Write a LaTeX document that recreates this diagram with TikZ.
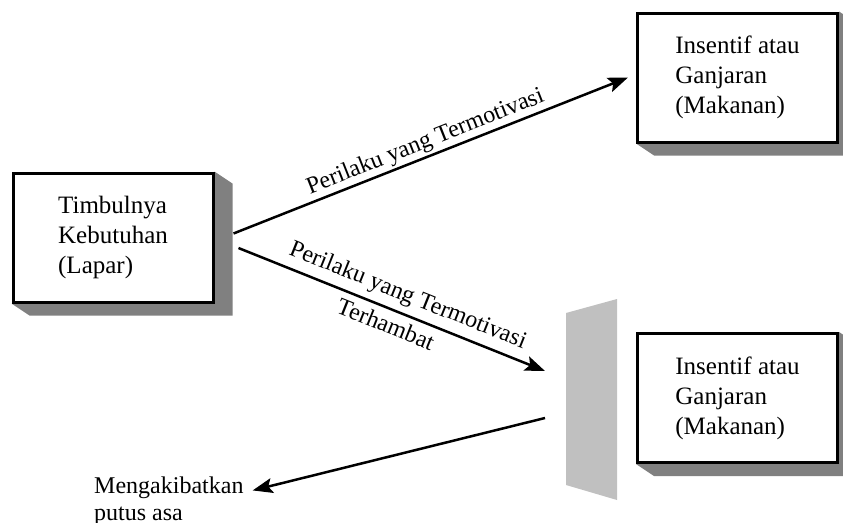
\documentclass[tikz,border=0pt]{standalone}
\usepackage{fontspec}
\setmainfont{Liberation Serif}
\usetikzlibrary{arrows.meta,calc,backgrounds}
\definecolor{shadowgray}{HTML}{808080}
\definecolor{wallgray}{HTML}{C0C0C0}
\begin{document}
\begin{tikzpicture}[x=1pt,y=-1pt,
  box/.style={draw, line width=3pt, fill=white, align=left,
    font=\fontsize{25}{30}\selectfont, minimum width=200pt,
    minimum height=129pt, inner sep=0pt},
  conn/.style={line width=2.5pt, -{Stealth[length=20pt,width=15pt,inset=4pt]}},
  lbl/.style={font=\fontsize{24}{29}\selectfont, sloped, inner sep=2pt},
  plain/.style={font=\fontsize{24}{27}\selectfont, align=left, inner sep=0pt}]
\useasboundingbox (0,0) rectangle (843,522);

% boxes
\node[box] (need) at (113,237.5) {Timbulnya\\Kebutuhan\\(Lapar)};
\node[box] (rew1) at (737.5,77.5) {Insentif atau\\Ganjaran\\(Makanan)};
\node[box] (rew2) at (737.5,398) {Insentif atau\\Ganjaran\\(Makanan)};

% shadows
\begin{scope}[on background layer]
\foreach \n in {need,rew1,rew2}{
  \fill[shadowgray] (\n.north east) -- ++(18,12)
    -- ($(\n.south east)+(18,12)$) -- ($(\n.south west)+(18,12)$)
    -- (\n.south west) -- (\n.south east) -- cycle;
}
\end{scope}

% barrier
\fill[wallgray] (566,313) -- (617,299) -- (617,500) -- (566,485) -- cycle;

% outcome text
\node[plain, anchor=west] (despair) at (94,501) {Mengakibatkan\\putus asa};

% coordinates for free ends
\coordinate (wallhit) at (545,371);
\coordinate (bounce) at (545,418);

% connectors
\draw[conn] ($(need.east)+(19,-4)$) -- ($(rew1.west)+(-8,0)$)
  node[lbl, anchor=south, pos=0.50] {Perilaku yang Termotivasi};
\draw[conn] ($(need.east)+(24,10.5)$) -- (wallhit)
  node[lbl, anchor=south, inner sep=6pt, pos=0.53] {Perilaku yang Termotivasi}
  node[lbl, anchor=north, inner sep=6pt, pos=0.50] {Terhambat};
\draw[conn] (bounce) -- ($(despair.north east)+(9,14)$);
\end{tikzpicture}
\end{document}
